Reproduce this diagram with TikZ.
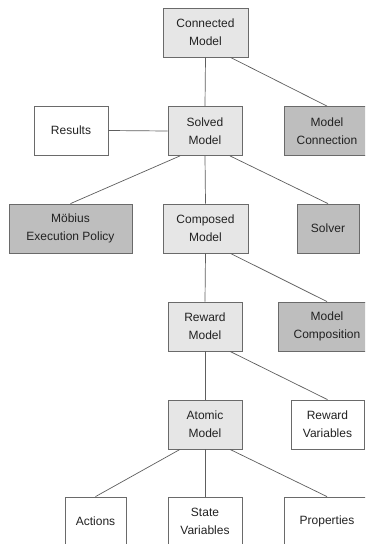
\documentclass[tikz,border=0pt]{standalone}
\usepackage{fontspec}
\setmainfont{Liberation Sans}
\usetikzlibrary{calc}
\definecolor{boxline}{HTML}{6A6A6A}
\definecolor{linkline}{HTML}{5E5E5E}
\definecolor{lightfill}{HTML}{E6E6E6}
\definecolor{darkfill}{HTML}{BEBEBE}
\definecolor{labeltext}{HTML}{222222}
\tikzset{
  box/.style={draw=boxline, line width=0.8pt, inner sep=0pt, minimum height=49pt,
    align=center, text=labeltext, font=\fontsize{12}{18}\selectfont},
  plainbox/.style={box, fill=white},
  lightbox/.style={box, fill=lightfill},
  darkbox/.style={box, fill=darkfill},
  link/.style={draw=linkline, line width=0.7pt}
}
\begin{document}
\begin{tikzpicture}[x=1pt, y=-1pt]
\clip (0,0) rectangle (365,544);
\useasboundingbox (0,0) rectangle (365,544);
\fill[white] (0,0) rectangle (365,544);

% hierarchy of model types
\node[lightbox, minimum width=85pt] (cm) at (205.5,32.5) {Connected\\Model};
\node[lightbox, minimum width=74pt] (sm) at (205,131) {Solved\\Model};
\node[plainbox, minimum width=74pt] (res) at (71,130.5) {Results};
\node[darkbox, minimum width=86pt] (mc) at (327,131) {Model\\Connection};
\node[darkbox, minimum width=123pt] (mep) at (70.5,228.5) {Möbius\\Execution Policy};
\node[lightbox, minimum width=85pt] (comp) at (205.5,228.5) {Composed\\Model};
\node[darkbox, minimum width=62pt] (solv) at (328,228.5) {Solver};
\node[lightbox, minimum width=74pt] (rm) at (205,326.5) {Reward\\Model};
\node[darkbox, minimum width=98pt] (mcomp) at (327,326.5) {Model\\Composition};
\node[lightbox, minimum width=74pt] (am) at (205,424.5) {Atomic\\Model};
\node[plainbox, minimum width=73pt] (rv) at (327.5,424.5) {Reward\\Variables};
\node[plainbox, minimum width=61pt] (act) at (95.5,521.5) {Actions};
\node[plainbox, minimum width=74pt] (sv) at (205,521.5) {State\\Variables};
\node[plainbox, minimum width=86pt] (prop) at (327,521.5) {Properties};

% connectors
\draw[link] (cm.south) -- (sm.north);
\draw[link] ($(cm.south)+(25,0)$) -- (mc.north);
\draw[link] (sm.west) -- (res.east);
\draw[link] ($(sm.south)+(-25,0)$) -- (mep.north);
\draw[link] (sm.south) -- (comp.north);
\draw[link] ($(sm.south)+(25,0)$) -- (solv.north);
\draw[link] (comp.south) -- (rm.north);
\draw[link] ($(comp.south)+(25,0)$) -- (mcomp.north);
\draw[link] (rm.south) -- (am.north);
\draw[link] ($(rm.south)+(25,0)$) -- (rv.north);
\draw[link] ($(am.south)+(-25,0)$) -- (act.north);
\draw[link] (am.south) -- (sv.north);
\draw[link] ($(am.south)+(25,0)$) -- (prop.north);
\end{tikzpicture}
\end{document}
